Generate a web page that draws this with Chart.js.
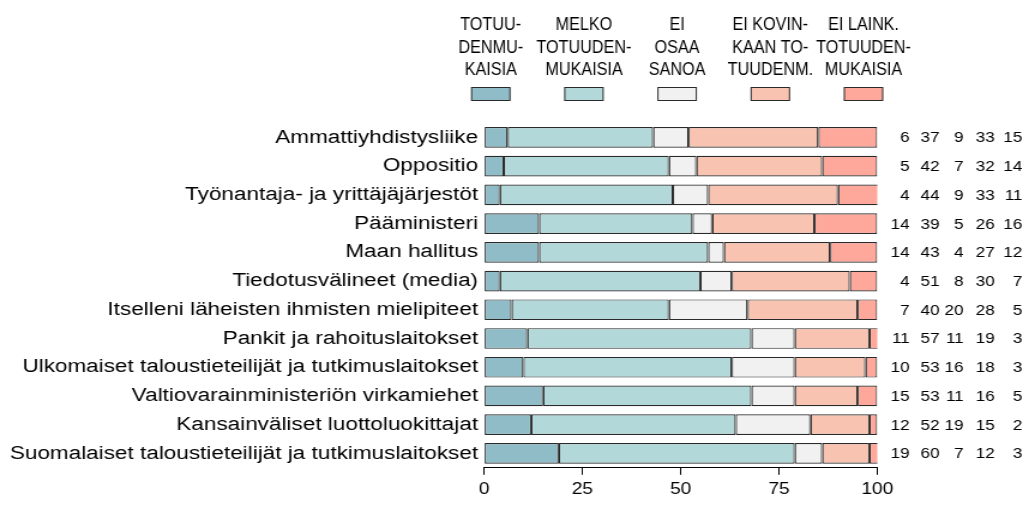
<!DOCTYPE html>
<html>
<head>
<meta charset="utf-8">
<script src="https://cdn.jsdelivr.net/npm/chart.js@4"></script>
<style>
  html, body { margin: 0; padding: 0; background: #fff; overflow: hidden; }
  /* alkuperäinen kuva on venytetty vaakasuunnassa, joten venytetään koko piirtopinta */
  #wrap { width: 863px; height: 505px; transform: scale(1.1993, 1); transform-origin: 0 0; }
</style>
</head>
<body>
<div id="wrap"><canvas id="trustChart" width="863" height="505"></canvas></div>
<script>
// Kategoriat (ylhäältä alas)
var categories = [
  "Ammattiyhdistysliike",
  "Oppositio",
  "Työnantaja- ja yrittäjäjärjestöt",
  "Pääministeri",
  "Maan hallitus",
  "Tiedotusvälineet (media)",
  "Itselleni läheisten ihmisten mielipiteet",
  "Pankit ja rahoituslaitokset",
  "Ulkomaiset taloustieteilijät ja tutkimuslaitokset",
  "Valtiovarainministeriön virkamiehet",
  "Kansainväliset luottoluokittajat",
  "Suomalaiset taloustieteilijät ja tutkimuslaitokset"
];

// Prosenttiosuudet per vastausvaihtoehto
var totuudenmukaisia      = [6, 5, 4, 14, 14, 4, 7, 11, 10, 15, 12, 19];
var melkoTotuudenmukaisia = [37, 42, 44, 39, 43, 51, 40, 57, 53, 53, 52, 60];
var eiOsaaSanoa           = [9, 7, 9, 5, 4, 8, 20, 11, 16, 11, 19, 7];
var eiKovinkaan           = [33, 32, 33, 26, 27, 30, 28, 19, 18, 16, 15, 12];
var eiLainkaan            = [15, 14, 11, 16, 12, 7, 5, 3, 3, 5, 2, 3];

// Selitteen tekstit (rivitettynä kuten alkuperäisessä)
var legendLabels = [
  ["TOTUU-", "DENMU-", "KAISIA"],
  ["MELKO", "TOTUUDEN-", "MUKAISIA"],
  ["EI", "OSAA", "SANOA"],
  ["EI KOVIN-", "KAAN TO-", "TUUDENM."],
  ["EI LAINK.", "TOTUUDEN-", "MUKAISIA"]
];

var xTicks = [0, 25, 50, 75, 100];

var colors = ["#8fbcc6", "#b3d8da", "#f1f1f1", "#f8c4b1", "#fea79b"];
var seriesData = [totuudenmukaisia, melkoTotuudenmukaisia, eiOsaaSanoa, eiKovinkaan, eiLainkaan];

var datasets = seriesData.map(function (d, i) {
  return {
    label: legendLabels[i].join(" "),
    data: d,
    backgroundColor: colors[i],
    borderColor: "#2a2a2a",
    borderWidth: 1.2,
    borderSkipped: false,
    categoryPercentage: 1.0,
    barPercentage: 0.72
  };
});

// Oma selite kaavion yläpuolelle
var topLegend = {
  id: "topLegend",
  afterDraw: function (chart) {
    var c = chart.ctx;
    var area = chart.chartArea;
    c.save();
    c.font = "19px 'Liberation Sans', Arial, sans-serif";
    c.textAlign = "center";
    c.textBaseline = "middle";
    for (var i = 0; i < legendLabels.length; i++) {
      var cx = area.left + 5.6 + i * 77.7;
      c.fillStyle = "#000";
      for (var j = 0; j < legendLabels[i].length; j++) {
        c.save();
        c.translate(cx, 25 + j * 22.5);
        c.scale(0.71, 1); // kapea kirjasin
        c.fillText(legendLabels[i][j], 0, 0);
        c.restore();
      }
      c.fillStyle = colors[i];
      c.fillRect(cx - 16, 87.5, 32, 13);
      c.strokeStyle = "#2a2a2a";
      c.lineWidth = 1;
      c.strokeRect(cx - 16, 87.5, 32, 13);
    }
    c.restore();
  }
};

// Lukuarvot palkkien oikealle puolelle
var valueColumns = {
  id: "valueColumns",
  afterDraw: function (chart) {
    var c = chart.ctx;
    var yScale = chart.scales.y;
    var colRight = [758.5, 783.5, 803.5, 829.5, 852.5];
    c.save();
    c.font = "14.3px 'Liberation Sans', Arial, sans-serif";
    c.fillStyle = "#000";
    c.textAlign = "right";
    c.textBaseline = "middle";
    for (var i = 0; i < categories.length; i++) {
      var y = yScale.getPixelForValue(i);
      for (var s = 0; s < seriesData.length; s++) {
        c.fillText(String(seriesData[s][i]), colRight[s], y + 1);
      }
    }
    c.restore();
  }
};

new Chart(document.getElementById("trustChart").getContext("2d"), {
  type: "bar",
  data: { labels: categories, datasets: datasets },
  options: {
    indexAxis: "y",
    responsive: false,
    animation: false,
    layout: { padding: { top: 123, right: 131.5, bottom: 1, left: 0 } },
    plugins: {
      legend: { display: false },
      tooltip: { enabled: false }
    },
    scales: {
      x: {
        stacked: true,
        min: 0,
        max: 100,
        afterBuildTicks: function (scale) {
          scale.ticks = xTicks.map(function (v) { return { value: v }; });
        },
        grid: { drawOnChartArea: false, drawTicks: true, tickLength: 7, color: "#000" },
        border: { display: true, color: "#000", width: 1 },
        ticks: {
          color: "#000",
          padding: 5,
          maxRotation: 0,
          font: { family: "'Liberation Sans', Arial, sans-serif", size: 16 }
        }
      },
      y: {
        stacked: true,
        grid: { display: false, drawTicks: false },
        border: { display: false },
        afterFit: function (scale) { scale.width = 403.6; },
        ticks: {
          color: "#000",
          padding: 5,
          font: { family: "'Liberation Sans', Arial, sans-serif", size: 18.8 }
        }
      }
    }
  },
  plugins: [topLegend, valueColumns]
});
</script>
</body>
</html>
